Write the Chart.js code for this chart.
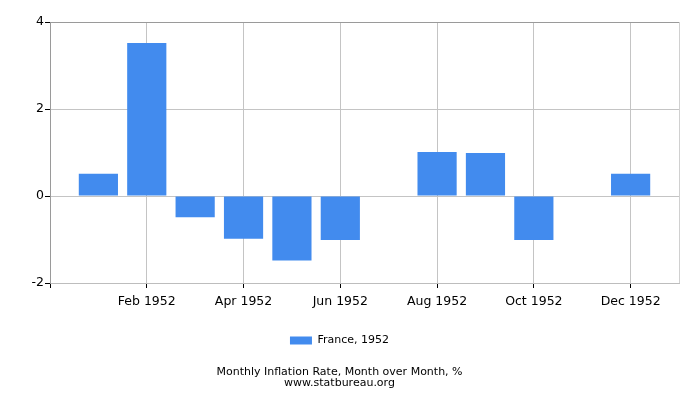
<!DOCTYPE html>
<html>
<head>
<meta charset="utf-8">
<script src="https://cdn.jsdelivr.net/npm/chart.js@4/dist/chart.umd.min.js"></script>
<style>
html,body{margin:0;padding:0;background:#fff;}
#wrap{width:700px;height:400px;}
</style>
</head>
<body>
<div id="wrap"><canvas id="c" width="700" height="400"></canvas></div>
<script>
const months = [1,2,3,4,5,6,7,8,9,10,11,12];
const monthLabels = ['Jan 1952','Feb 1952','Mar 1952','Apr 1952','May 1952','Jun 1952','Jul 1952','Aug 1952','Sep 1952','Oct 1952','Nov 1952','Dec 1952'];
const inflation = [0.51, 3.52, -0.49, -0.98, -1.48, -1.01, 0, 1.01, 0.99, -1.01, 0, 0.51];
const xTickValues = [0,2,4,6,8,10,12,13];
const yTickValues = [-2,0,2,4];
const seriesName = 'France, 1952';
const titleLines = ['Monthly Inflation Rate, Month over Month, %','www.statbureau.org'];

const FONT = 'DejaVu Sans';
const points = months.map((m,i)=>({x:m, y:inflation[i]}));

new Chart(document.getElementById('c'), {
  type: 'bar',
  data: {
    datasets: [{
      label: seriesName,
      data: points,
      backgroundColor: '#428bee',
      borderWidth: 0,
      barPercentage: 1,
      categoryPercentage: 0.81
    }]
  },
  options: {
    responsive: false,
    animation: false,
    devicePixelRatio: 1,
    layout: { padding: { top: 22, right: 21, left: 0, bottom: 11 } },
    scales: {
      x: {
        type: 'linear',
        offset: false,
        min: 0, max: 13,
        afterBuildTicks: (s) => { s.ticks = xTickValues.map(v => ({value: v})); },
        afterFit: (s) => { s.height = 40; },
        ticks: {
          autoSkip: false,
          maxRotation: 0,
          color: '#000',
          font: { family: FONT, size: 12.5 },
          padding: 6,
          callback: (v) => (v >= 1 && v <= 12) ? monthLabels[v-1] : ''
        },
        grid: {
          offset: false, lineWidth: 1, tickLength: 5,
          color: (ctx) => ctx.tick && ctx.tick.value === 13 ? '#d0d0d0' : '#c4c4c4',
          tickColor: (ctx) => ctx.tick && ctx.tick.value === 13 ? 'rgba(0,0,0,0)' : '#000'
        },
        border: { display: true, color: '#bdbdbd' }
      },
      y: {
        min: -2, max: 4,
        afterBuildTicks: (s) => { s.ticks = yTickValues.map(v => ({value: v})); },
        afterFit: (s) => { s.width = 50; },
        ticks: {
          color: '#000',
          font: { family: FONT, size: 12.5 },
          padding: 1
        },
        grid: {
          color: (ctx) => ctx.tick && ctx.tick.value === 4 ? '#9a9a9a' : '#c4c4c4',
          tickColor: '#000', tickLength: 5
        },
        border: { display: true, color: '#9a9a9a' }
      }
    },
    plugins: {
      legend: {
        position: 'bottom',
        labels: {
          color: '#000',
          font: { family: FONT, size: 11 },
          boxWidth: 22,
          boxHeight: 8,
          padding: 12
        }
      },
      title: {
        display: true,
        position: 'bottom',
        text: titleLines,
        color: '#000',
        font: { family: FONT, size: 11, weight: 'normal', lineHeight: 1.0 },
        padding: { top: 11, bottom: 0 }
      },
      tooltip: { enabled: false }
    }
  }
});
</script>
</body>
</html>
